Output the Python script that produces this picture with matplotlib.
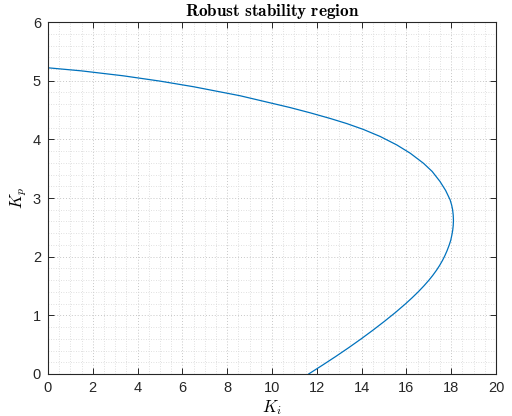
import matplotlib

matplotlib.use("Agg")
import matplotlib.pyplot as plt
from matplotlib.ticker import MultipleLocator

# Boundary of the robust stability region (Ki, Kp)
ki = [0.0, 1.5, 3.35, 5.0, 6.5, 8.57, 10.8,
      11.7, 12.6, 13.34, 14.08, 14.83, 15.57, 16.17, 16.76, 17.15, 17.5,
      17.75, 17.95,
      18.02, 18.063, 18.09, 18.1, 18.09, 18.067, 18.03, 17.98,
      17.903, 17.813, 17.721, 17.617, 17.482, 17.346, 17.175, 17.007,
      16.777, 16.527, 16.257, 15.972,
      15.515, 15.027, 14.517, 13.985, 13.43, 12.852, 12.252, 11.637]
kp = [5.22, 5.1675, 5.084, 4.993, 4.897, 4.744, 4.543,
      4.453, 4.356, 4.269, 4.169, 4.049, 3.905, 3.764, 3.593, 3.453, 3.282,
      3.13, 2.97,
      2.88, 2.80, 2.71, 2.62, 2.53, 2.45, 2.37, 2.28,
      2.19, 2.10, 2.02, 1.94, 1.85, 1.77, 1.68, 1.60,
      1.50, 1.40, 1.30, 1.20,
      1.05, 0.90, 0.75, 0.60, 0.45, 0.30, 0.15, 0.0]

x_ticks = [0, 2, 4, 6, 8, 10, 12, 14, 16, 18, 20]
y_ticks = [0, 1, 2, 3, 4, 5, 6]

plt.rcParams["mathtext.fontset"] = "cm"
plt.rcParams["font.family"] = ["Liberation Sans", "DejaVu Sans"]

fig = plt.figure(figsize=(5.12, 4.16), dpi=100)
ax = fig.add_axes([0.09375, 0.101, 0.875, 0.846])

ax.plot(ki, kp, color=(0.0, 0.447, 0.741), linewidth=0.9,
        solid_joinstyle="round")

ax.set_xlim(0, 20)
ax.set_ylim(0, 6)
ax.set_xticks(x_ticks)
ax.set_yticks(y_ticks)
ax.xaxis.set_minor_locator(MultipleLocator(0.5))
ax.yaxis.set_minor_locator(MultipleLocator(0.2))

dark = (0.15, 0.15, 0.15)
ax.tick_params(which="major", direction="in", length=4, width=0.7,
               top=True, right=True, colors=dark, labelsize=10.5, pad=5)
ax.tick_params(which="minor", length=0, top=True, right=True)
for s in ax.spines.values():
    s.set_color(dark)
    s.set_linewidth(0.8)

ax.grid(which="major", linestyle=(0, (1, 2)), color=(0.78, 0.78, 0.78),
        linewidth=0.7)
ax.grid(which="minor", linestyle=(0, (1, 2)), color=(0.84, 0.84, 0.84),
        linewidth=0.6)
ax.set_axisbelow(True)

ax.set_title(r"$\mathbf{Robust\ stability\ region}$", fontsize=12.4, pad=4)
ax.set_xlabel(r"$K_i$", fontsize=12, labelpad=2)
ax.set_ylabel(r"$K_p$", fontsize=12, labelpad=3)

fig.savefig("out.png", dpi=100)
